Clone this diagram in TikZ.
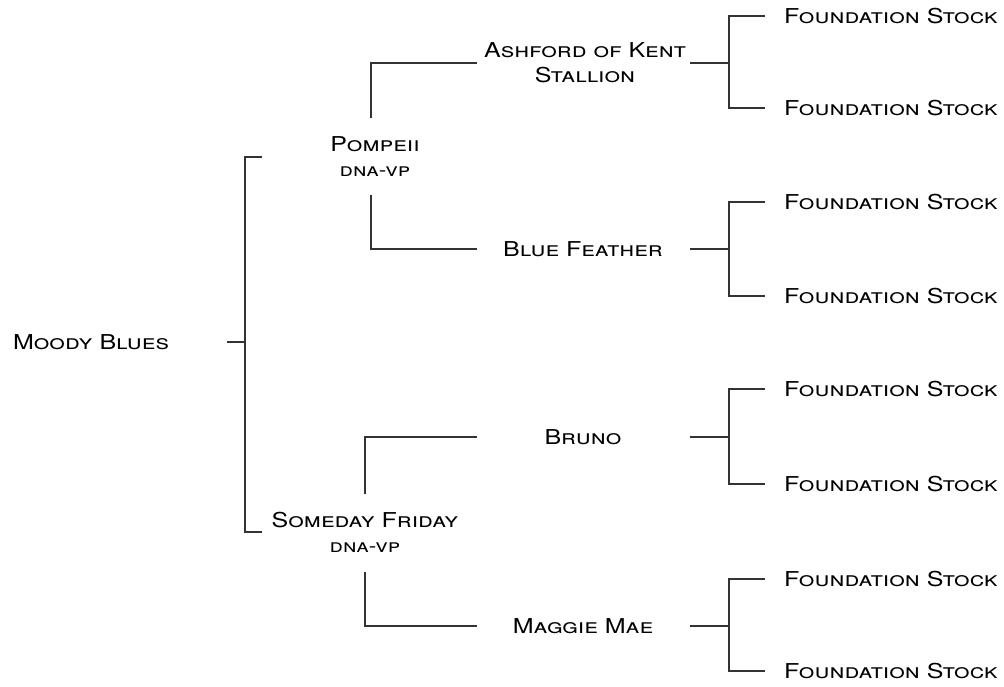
\documentclass[tikz,border=0pt]{standalone}
\usepackage{fontspec}
\newfontfamily\pedfont{TeX Gyre Heros}[FakeStretch=1.22]
\newcommand{\dnavp}{{\fontsize{18.5}{25}\selectfont dna-vp}}

\begin{document}
\begin{tikzpicture}[x=1pt,y=-1pt]
        \tikzset{horse/.style = {font=\pedfont\scshape\fontsize{20.5}{25}\selectfont, align=center, inner sep=0pt}}
        \tikzset{link/.style = {line width=1.2pt, black!80}}
        \useasboundingbox (0,0) rectangle (1004,686);
        % horses
        \node[horse] (moody)   at (91,342)  {Moody Blues};
        \node[horse] (pompeii) at (375,157) {Pompeii\\\dnavp};
        \node[horse] (someday) at (365,532) {Someday Friday\\\dnavp};
        \node[horse] (ashford) at (585,63)  {Ashford of Kent\\Stallion};
        \node[horse] (blue)    at (583,249) {Blue Feather};
        \node[horse] (bruno)   at (583,437) {Bruno};
        \node[horse] (maggie)  at (583,626) {Maggie Mae};
        \node[horse] (fs1) at (891,16)  {Foundation Stock};
        \node[horse] (fs2) at (891,108) {Foundation Stock};
        \node[horse] (fs3) at (891,202) {Foundation Stock};
        \node[horse] (fs4) at (891,296) {Foundation Stock};
        \node[horse] (fs5) at (891,389) {Foundation Stock};
        \node[horse] (fs6) at (891,484) {Foundation Stock};
        \node[horse] (fs7) at (891,579) {Foundation Stock};
        \node[horse] (fs8) at (891,671) {Foundation Stock};
        % columns
        \coordinate (c1) at (227,0);
        \coordinate (c2) at (245,0);
        \coordinate (c3) at (262,0);
        \coordinate (c4) at (477,0);
        \coordinate (c5) at (690,0);
        \coordinate (c6) at (729,0);
        \coordinate (c7) at (765,0);
        \coordinate (p-up) at (371,118);
        \coordinate (p-dn) at (371,195);
        \coordinate (s-up) at (365,494);
        \coordinate (s-dn) at (365,572);
        % brackets
        \draw[link] (c1 |- moody) -- (c2 |- moody);
        \draw[link] (c3 |- pompeii) -| (c2 |- moody) |- (c3 |- someday);
        \draw[link] (p-up) |- (c4 |- ashford);
        \draw[link] (p-dn) |- (c4 |- blue);
        \draw[link] (s-up) |- (c4 |- bruno);
        \draw[link] (s-dn) |- (c4 |- maggie);
        \draw[link] (c5 |- ashford) -- (c6 |- ashford);
        \draw[link] (c7 |- fs1) -| (c6 |- ashford) |- (c7 |- fs2);
        \draw[link] (c5 |- blue) -- (c6 |- blue);
        \draw[link] (c7 |- fs3) -| (c6 |- blue) |- (c7 |- fs4);
        \draw[link] (c5 |- bruno) -- (c6 |- bruno);
        \draw[link] (c7 |- fs5) -| (c6 |- bruno) |- (c7 |- fs6);
        \draw[link] (c5 |- maggie) -- (c6 |- maggie);
        \draw[link] (c7 |- fs7) -| (c6 |- maggie) |- (c7 |- fs8);
\end{tikzpicture}
\end{document}
